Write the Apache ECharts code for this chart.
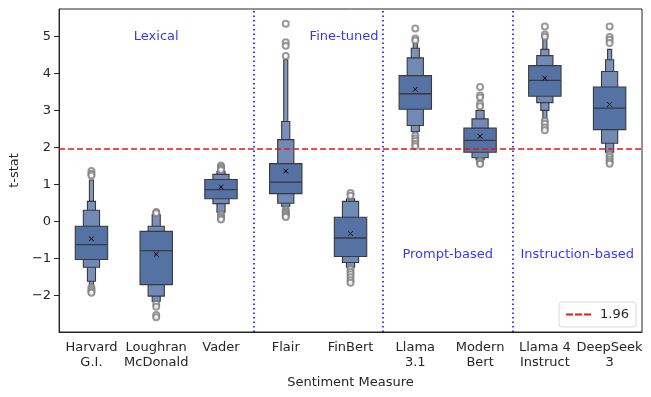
<!DOCTYPE html>
<html>
<head>
<meta charset="utf-8">
<script src="https://cdn.jsdelivr.net/npm/echarts@6/dist/echarts.min.js"></script>
<style>
  html, body { margin: 0; padding: 0; background: #fff; }
  #chart { width: 651px; height: 397px; }
</style>
</head>
<body>
<div id="chart"></div>
<script>
// categories on the x axis
var categories = ['Harvard\nG.I.', 'Loughran\nMcDonald', 'Vader', 'Flair', 'FinBert',
                  'Llama\n3.1', 'Modern\nBert', 'Llama 4\nInstruct', 'DeepSeek\n3'];

// letter values, innermost box first (level 0 = the central box)
var lvUpper = [
  [-0.12, 0.31, 0.55, 1.13],
  [-0.26, -0.12, 0.19],
  [1.14, 1.28, 1.36],
  [1.57, 2.22, 2.71, 4.38],
  [0.12, 0.55, 0.62],
  [3.95, 4.43, 4.69, 4.83],
  [2.53, 2.78, 3.01],
  [4.22, 4.49, 4.66, 4.95],
  [3.64, 4.06, 4.38, 4.66]
];
var lvLower = [
  [-1.02, -1.23, -1.61, -1.74],
  [-1.70, -2.01, -2.15],
  [0.62, 0.49, 0.26],
  [0.76, 0.50, 0.42, 0.35],
  [-0.94, -1.10, -1.23],
  [3.04, 2.60, 2.44, 2.38],
  [1.88, 1.73, 1.68],
  [3.39, 3.22, 3.01, 2.78],
  [2.49, 2.12, 1.88, 1.85]
];
var medians = [-0.62, -0.78, 0.87, 1.07, -0.44, 3.46, 2.20, 3.82, 3.07];
var means = [-0.46, -0.88, 0.94, 1.37, -0.32, 3.58, 2.31, 3.88, 3.17];
var outliers = [
  [1.37, 1.30, 1.25, -1.78, -1.83, -1.88, -1.92],
  [0.26, 0.23, -2.22, -2.30, -2.52, -2.58],
  [1.52, 1.48, 1.44, 1.40, 0.20, 0.15, 0.10, 0.06],
  [5.35, 4.85, 4.76, 4.48, 0.33, 0.28, 0.24, 0.20, 0.16, 0.13],
  [0.78, 0.70, -1.28, -1.35, -1.42, -1.50, -1.58, -1.65],
  [5.22, 4.95, 4.90, 2.33, 2.25, 2.18, 2.10, 2.04],
  [3.64, 3.41, 3.36, 3.19, 3.12, 1.65, 1.60, 1.56],
  [5.28, 5.06, 5.00, 2.72, 2.65, 2.55, 2.47],
  [5.28, 4.99, 4.92, 4.83, 1.82, 1.75, 1.68, 1.62, 1.57]
];
var yTicks = [-2, -1, 0, 1, 2, 3, 4, 5];
var threshold = 1.96;
var groupSplits = [2.5, 4.5, 6.5];
var annoText = ['Lexical', 'Fine-tuned', 'Prompt-based', 'Instruction-based'];
var annoX = [1, 3.9, 5.5, 7.5];
var annoY = [5.0, 5.0, -0.9, -0.9];

var levelColors = ['#5572a5', '#7189b5', '#7a91bb', '#8399bf'];
var edgeColor = '#3a3a3a';

// flatten boxes, outer (narrow) levels first so the wide inner ones sit on top
var boxData = [];
for (var lvl = 3; lvl >= 0; lvl--) {
  for (var c = 0; c < categories.length; c++) {
    if (lvUpper[c].length > lvl) {
      boxData.push([c, lvl, lvLower[c][lvl], lvUpper[c][lvl]]);
    }
  }
}
var outlierData = [];
outliers.forEach(function (arr, c) {
  arr.forEach(function (v) { outlierData.push([c, v]); });
});
var medianData = medians.map(function (v, c) { return [c, v]; });
var meanData = means.map(function (v, c) { return [c, v]; });
var annoData = annoText.map(function (t, i) { return { name: t, value: [annoX[i], annoY[i]] }; });

var myChart = echarts.init(document.getElementById('chart'));
var font = 'DejaVu Sans';

myChart.setOption({
  animation: false,
  textStyle: { fontFamily: font },
  grid: {
    left: 56, right: 9, top: 9, bottom: 65,
    show: true, borderColor: '#262626', borderWidth: 1, backgroundColor: 'transparent'
  },
  legend: {
    data: [{ name: '1.96', icon: 'path://M0,0h7v2h-7zM9,0h7v2h-7zM18,0h7v2h-7z' }],
    right: 15, top: 302,
    itemWidth: 25, itemHeight: 2,
    itemGap: 6,
    padding: [6, 7],
    borderColor: '#d9d9d9', borderWidth: 1, borderRadius: 3,
    backgroundColor: '#fff',
    itemStyle: { color: '#e8141a' },
    textStyle: { fontSize: 13, color: '#262626', fontFamily: font, padding: [0, 0, 0, 4] }
  },
  xAxis: [{
    type: 'category',
    data: categories,
    axisLine: { onZero: false, lineStyle: { color: '#262626' } },
    axisTick: { alignWithLabel: true, length: 5, lineStyle: { color: '#262626' } },
    axisLabel: { interval: 0, fontSize: 13, lineHeight: 15, color: '#262626', margin: 8 },
    splitLine: { show: false },
    name: 'Sentiment Measure',
    nameLocation: 'middle',
    nameGap: 44,
    nameTextStyle: { fontSize: 13, color: '#262626' }
  }, {
    type: 'value', min: -0.5, max: 8.5, show: false,
    axisLine: { show: false, onZero: false }
  }],
  yAxis: {
    type: 'value',
    min: -2.98, max: 5.75,
    axisLine: { show: true, onZero: false, lineStyle: { color: '#262626' } },
    axisTick: { show: true, length: 5, customValues: yTicks, lineStyle: { color: '#262626' } },
    axisLabel: {
      customValues: yTicks, fontSize: 13, color: '#262626', margin: 8,
      formatter: function (v) { return v < 0 ? '\u2212' + (-v) : String(v); }
    },
    splitLine: { show: false },
    name: 't-stat',
    nameLocation: 'middle',
    nameGap: 29,
    nameTextStyle: { fontSize: 13, color: '#262626' }
  },
  series: [
    {
      // letter-value boxes
      type: 'custom',
      xAxisIndex: 1,
      data: boxData,
      z: 2,
      renderItem: function (params, api) {
        var c = api.value(0), lvl = api.value(1);
        var top = api.coord([c, api.value(3)]);
        var bot = api.coord([c, api.value(2)]);
        var w = api.size([1, 0])[0] * 0.5 * Math.pow(2, -lvl);
        return {
          type: 'rect',
          shape: { x: top[0] - w / 2, y: top[1], width: w, height: bot[1] - top[1] },
          style: { fill: levelColors[lvl], stroke: edgeColor, lineWidth: 1.1 }
        };
      }
    },
    {
      // medians
      type: 'custom',
      xAxisIndex: 1,
      data: medianData,
      z: 3,
      renderItem: function (params, api) {
        var p = api.coord([api.value(0), api.value(1)]);
        var w = api.size([1, 0])[0] * 0.5;
        return {
          type: 'line',
          shape: { x1: p[0] - w / 2, y1: p[1], x2: p[0] + w / 2, y2: p[1] },
          style: { stroke: edgeColor, lineWidth: 1.3 }
        };
      }
    },
    {
      // means, drawn as x
      type: 'custom',
      xAxisIndex: 1,
      data: meanData,
      z: 4,
      renderItem: function (params, api) {
        var p = api.coord([api.value(0), api.value(1)]);
        var s = 2.3;
        return {
          type: 'group',
          children: [
            { type: 'line', shape: { x1: p[0] - s, y1: p[1] - s, x2: p[0] + s, y2: p[1] + s }, style: { stroke: '#000', lineWidth: 1 } },
            { type: 'line', shape: { x1: p[0] - s, y1: p[1] + s, x2: p[0] + s, y2: p[1] - s }, style: { stroke: '#000', lineWidth: 1 } }
          ]
        };
      }
    },
    {
      name: 'outliers',
      type: 'scatter',
      xAxisIndex: 1,
      data: outlierData,
      symbol: 'emptyCircle',
      symbolSize: 6,
      z: 3,
      itemStyle: { color: '#808080', borderWidth: 1.1 }
    },
    {
      name: '1.96',
      type: 'line',
      xAxisIndex: 1,
      data: [],
      symbol: 'none',
      z: 10,
      itemStyle: { color: '#e8141a' },
      lineStyle: { color: '#e8141a', type: [6, 3], width: 1.5 },
      markLine: {
        silent: true,
        symbol: 'none',
        label: { show: false },
        lineStyle: { color: '#e8141a', type: [6, 3], width: 1.5 },
        data: [{ yAxis: threshold }],
        z: 10
      }
    },
    {
      name: 'splits',
      type: 'line',
      xAxisIndex: 1,
      data: [],
      symbol: 'none',
      markLine: {
        silent: true,
        symbol: 'none',
        label: { show: false },
        lineStyle: { color: '#0000ff', type: [1.5, 3], width: 1.5 },
        data: groupSplits.map(function (x) { return { xAxis: x }; })
      }
    },
    {
      name: 'groups',
      type: 'scatter',
      xAxisIndex: 1,
      data: annoData,
      symbolSize: 0,
      label: {
        show: true, position: 'inside', formatter: '{b}',
        color: '#0000ff', fontSize: 13, fontFamily: font
      }
    }
  ]
});
</script>
</body>
</html>
